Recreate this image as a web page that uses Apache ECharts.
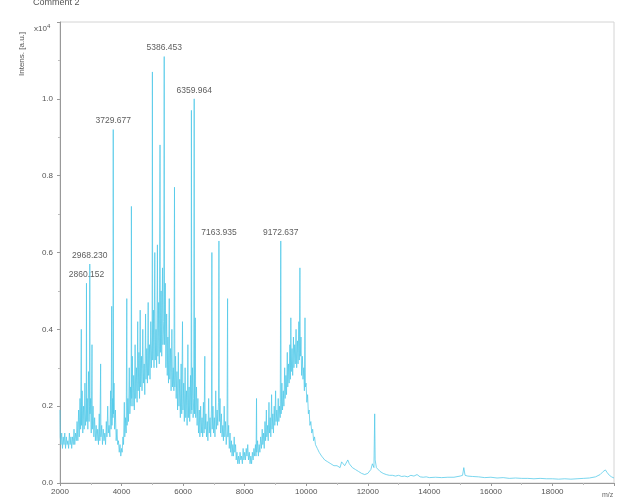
<!DOCTYPE html>
<html>
<head>
<meta charset="utf-8">
<script src="https://cdn.jsdelivr.net/npm/echarts@6/dist/echarts.min.js"></script>
<style>html,body{margin:0;padding:0;background:#fff;}#c{width:622px;height:502px;}</style>
</head>
<body>
<div id="c"></div>
<script>
// m/z tick labels
const xTicks = ['2000','4000','6000','8000','10000','12000','14000','16000','18000'];
const yTicks = ['0.0','0.2','0.4','0.6','0.8','1.0'];

// labelled peaks
const peakMz = [2860.152, 2968.230, 3729.677, 5386.453, 6359.964, 7163.935, 9172.637];
const peakInt = [0.52, 0.57, 0.92, 1.11, 1.00, 0.63, 0.63];
const peakText = ['2860.152', '2968.230', '3729.677', '5386.453', '6359.964', '7163.935', '9172.637'];

// spectrum, intensity x10^4 [a.u.]
const spectrumA = [
[2000,0.19],[2008,0.12],[2030,0.10],[2055,0.13],[2080,0.09],[2105,0.12],[2130,0.10],[2155,0.13],[2180,0.09],[2205,0.12],
[2230,0.10],[2255,0.11],[2280,0.09],[2305,0.13],[2330,0.10],[2355,0.12],[2380,0.09],[2405,0.12],[2430,0.10],[2455,0.14],
[2480,0.10],[2505,0.13],[2530,0.11],[2555,0.16],[2580,0.11],[2605,0.19],[2625,0.12],[2650,0.22],[2670,0.14],[2692,0.40],
[2700,0.15],[2720,0.24],[2740,0.13],[2765,0.20],[2785,0.14],[2810,0.26],[2830,0.15],[2852,0.19],[2860,0.52],[2868,0.16],
[2885,0.22],[2905,0.14],[2925,0.29],[2945,0.16],[2960,0.20],[2968,0.57],[2976,0.18],[2995,0.22],[3015,0.13],[3040,0.36],
[3050,0.14],[3075,0.20],[3100,0.12],[3125,0.17],[3150,0.11],[3175,0.15],[3200,0.11],[3225,0.14],[3250,0.10],[3275,0.18],
[3295,0.11],[3320,0.31],[3330,0.12],[3355,0.15],[3380,0.10],[3405,0.14],[3430,0.11],[3455,0.13],[3480,0.10],[3505,0.16],
[3525,0.12],[3550,0.20],[3570,0.13],[3595,0.15],[3620,0.12],[3645,0.24],[3660,0.14],[3680,0.46],[3690,0.15],[3710,0.22],
[3722,0.17],[3730,0.92],[3738,0.18],[3755,0.26],[3775,0.14],[3800,0.19],[3825,0.11],[3850,0.14],[3875,0.10],[3900,0.11],
[3925,0.08],[3950,0.10],[3975,0.07],[4000,0.09]
];
const spectrumB = [
[4020,0.08],[4045,0.12],[4065,0.10],[4090,0.21],[4105,0.12],[4130,0.17],[4150,0.13],[4170,0.48],[4180,0.15],[4205,0.22],
[4225,0.16],[4250,0.30],[4270,0.18],[4295,0.25],[4310,0.20],[4320,0.72],[4330,0.22],[4350,0.33],[4370,0.20],[4395,0.28],
[4415,0.19],[4440,0.36],[4460,0.22],[4485,0.30],[4505,0.21],[4525,0.42],[4540,0.24],[4565,0.34],[4585,0.22],[4605,0.45],
[4620,0.25],[4645,0.33],[4665,0.24],[4690,0.40],[4710,0.26],[4735,0.31],[4755,0.23],[4780,0.44],[4795,0.27],[4820,0.35],
[4840,0.26],[4865,0.47],[4880,0.28],[4905,0.36],[4925,0.27],[4950,0.42],[4970,0.30],[4992,0.38],[5002,1.07],[5012,0.32],
[5035,0.45],[5055,0.30],[5080,0.60],[5095,0.32],[5120,0.40],[5140,0.30],[5165,0.62],[5180,0.33],[5205,0.47],[5225,0.31],
[5250,0.88],[5262,0.34],[5285,0.50],[5305,0.33],[5330,0.56],[5345,0.36],[5370,0.42],[5386,1.11],[5398,0.36],[5420,0.52],
[5440,0.30],[5465,0.44],[5485,0.28],[5505,0.38],[5525,0.26],[5550,0.48],[5565,0.27],[5590,0.35],[5610,0.24],[5635,0.40],
[5655,0.25],[5680,0.30],[5700,0.24],[5720,0.77],[5732,0.25],[5755,0.33],[5775,0.22],[5800,0.29],[5820,0.19],[5845,0.34],
[5865,0.20],[5890,0.27],[5910,0.17],[5935,0.31],[5955,0.18],[5980,0.42],[5995,0.19],[6020,0.26],[6040,0.16],[6065,0.30],
[6085,0.17],[6110,0.24],[6130,0.15],[6155,0.36],[6170,0.17],[6195,0.25],[6215,0.16],[6240,0.28],[6258,0.18],[6270,0.97],
[6282,0.19],[6305,0.30],[6325,0.17],[6345,0.22],[6360,1.00],[6372,0.18],[6395,0.43],[6410,0.17],[6435,0.25],[6455,0.15],
[6480,0.22],[6500,0.13],[6525,0.19],[6545,0.12],[6570,0.20],[6590,0.13],[6615,0.17],[6635,0.12],[6660,0.21],[6680,0.13]
];
const spectrumC = [
[6705,0.33],[6715,0.14],[6740,0.18],[6760,0.12],[6785,0.16],[6805,0.11],[6830,0.22],[6850,0.13],[6875,0.17],[6895,0.12],
[6920,0.19],[6935,0.60],[6945,0.14],[6970,0.20],[6990,0.13],[7015,0.17],[7035,0.12],[7060,0.24],[7080,0.14],[7105,0.19],
[7125,0.15],[7150,0.21],[7164,0.63],[7176,0.16],[7200,0.22],[7220,0.13],[7245,0.18],[7265,0.12],[7290,0.15],[7310,0.11],
[7335,0.20],[7355,0.12],[7380,0.16],[7400,0.10],[7425,0.13],[7445,0.48],[7455,0.12],[7480,0.15],[7500,0.09],[7525,0.13],
[7545,0.08],[7570,0.11],[7590,0.07],[7615,0.10],[7635,0.07],[7660,0.12],[7680,0.08],[7705,0.10],[7725,0.06],[7750,0.08],
[7775,0.05],[7800,0.07],[7825,0.05],[7850,0.08],[7875,0.06],[7900,0.07],[7925,0.05],[7950,0.09],[7975,0.06],[8000,0.08],
[8025,0.06],[8050,0.09],[8075,0.07],[8100,0.10],[8125,0.06],[8150,0.08],[8175,0.05],[8200,0.07],[8225,0.05],[8250,0.08],
[8275,0.06],[8300,0.09],[8325,0.07],[8350,0.10],[8370,0.07],[8385,0.22],[8395,0.08],[8420,0.11],[8445,0.07],[8470,0.10],
[8495,0.08],[8520,0.12],[8545,0.09],[8570,0.14],[8590,0.10],[8615,0.13],[8635,0.09],[8660,0.16],[8680,0.11],[8705,0.19],
[8720,0.12],[8745,0.15],[8765,0.11],[8790,0.21],[8805,0.13],[8830,0.17],[8850,0.12],[8875,0.23],[8890,0.14],[8915,0.18],
[8935,0.13],[8960,0.20],[8980,0.15],[9005,0.24],[9020,0.16],[9045,0.19],[9065,0.15],[9090,0.22],[9110,0.16],[9135,0.20],
[9155,0.17],[9173,0.63],[9185,0.18],[9210,0.26],[9230,0.19],[9255,0.24],[9275,0.20],[9300,0.30],[9315,0.22],[9340,0.28],
[9360,0.23],[9385,0.34],[9400,0.25],[9425,0.31],[9445,0.26],[9470,0.36],[9485,0.27],[9500,0.43],[9515,0.29],[9540,0.35],
[9560,0.28],[9585,0.38],[9600,0.30],[9625,0.36],[9645,0.31],[9670,0.40],[9690,0.30],[9715,0.37],[9735,0.31],[9760,0.42],
[9775,0.32],[9795,0.56],[9808,0.33],[9830,0.38],[9850,0.28],[9875,0.33],[9895,0.27],[9920,0.30],[9940,0.24],[9960,0.43],
[9972,0.25],[9995,0.26],[10020,0.21],[10045,0.23],[10070,0.18],[10095,0.19],[10120,0.15],[10150,0.16],[10180,0.13],[10210,0.14],
[10240,0.11],[10270,0.12],[10300,0.10],[10330,0.10],[10360,0.09],[10390,0.09],[10420,0.08],[10450,0.08]
];
const spectrumD = [
[10500,0.07],[10550,0.07],[10600,0.06],[10650,0.065],[10700,0.055],[10750,0.06],[10800,0.05],[10850,0.05],[10900,0.045],[10950,0.04],
[11000,0.045],[11050,0.05],[11100,0.04],[11150,0.055],[11200,0.05],[11250,0.045],[11300,0.05],[11350,0.06],[11400,0.05],[11450,0.045],
[11500,0.04],[11550,0.035],[11600,0.035],[11650,0.03],[11700,0.03],[11750,0.028],[11800,0.025],[11850,0.025],[11900,0.022],[11950,0.022],
[12000,0.025],[12050,0.03],[12100,0.035],[12150,0.05],[12200,0.04],[12225,0.18],[12240,0.06],[12280,0.04],[12330,0.035],[12400,0.03],
[12500,0.025],[12600,0.022],[12700,0.02],[12800,0.02],[12900,0.018],[13000,0.02],[13100,0.017],[13200,0.018],[13300,0.016],[13400,0.02],
[13500,0.018],[13600,0.022],[13700,0.016],[13800,0.015],[13900,0.016],[14000,0.014],[14200,0.015],[14400,0.014],[14600,0.015],[14800,0.015],
[15000,0.018],[15080,0.02],[15120,0.04],[15160,0.02],[15250,0.018],[15400,0.017],[15600,0.016],[15800,0.014],[16000,0.015],[16200,0.013],
[16400,0.014],[16600,0.012],[16800,0.013],[17000,0.012],[17200,0.012],[17400,0.011],[17600,0.012],[17800,0.011],[18000,0.011],[18200,0.01],
[18400,0.011],[18600,0.01],[18800,0.011],[19000,0.012],[19200,0.013],[19400,0.016],[19550,0.022],[19650,0.03],[19720,0.034],[19780,0.027],
[19850,0.02],[19920,0.016],[20000,0.013]
];

const spectrum = spectrumA.concat(spectrumB, spectrumC, spectrumD);
const peaks = peakMz.map((m, i) => ({ value: [m, peakInt[i]], name: peakText[i] }));

const chart = echarts.init(document.getElementById('c'), null, { renderer: 'canvas' });
const txt = '#555';
const font = 'Liberation Sans';
chart.setOption({
  animation: false,
  backgroundColor: '#fff',
  grid: { left: 60, right: 8, top: 22, bottom: 19, show: true, borderColor: '#d4d4d4', borderWidth: 1 },
  xAxis: {
    type: 'value', min: 2000, max: 20000, interval: 2000,
    axisLine: { show: true, lineStyle: { color: '#999' } },
    axisTick: { show: true, length: 3, lineStyle: { color: '#999' } },
    minorTick: { show: true, splitNumber: 2, length: 2, lineStyle: { color: '#bbb' } },
    splitLine: { show: false },
    axisLabel: {
      color: txt, fontSize: 8, fontFamily: font, margin: 5, showMaxLabel: false,
      formatter: (v) => xTicks.indexOf(String(v)) >= 0 ? String(v) : ''
    }
  },
  yAxis: {
    type: 'value', min: 0, max: 1.2, interval: 0.2,
    axisLine: { show: true, lineStyle: { color: '#999' } },
    axisTick: { show: true, length: 3, lineStyle: { color: '#999' } },
    minorTick: { show: true, splitNumber: 2, length: 2, lineStyle: { color: '#bbb' } },
    splitLine: { show: false },
    axisLabel: {
      color: txt, fontSize: 8, fontFamily: font, margin: 7, showMaxLabel: false,
      formatter: (v) => { const s = v.toFixed(1); return yTicks.indexOf(s) >= 0 ? s : ''; }
    }
  },
  series: [
    {
      type: 'line', data: spectrum, showSymbol: false, symbol: 'none',
      lineStyle: { color: '#4fc8e8', width: 0.75 }, z: 2
    },
    {
      type: 'scatter', data: peaks, symbolSize: 0, z: 3,
      label: {
        show: true, position: 'top', distance: 4,
        formatter: (p) => p.name, color: '#333', fontSize: 8.5, fontFamily: font
      }
    }
  ],
  graphic: [
    { type: 'text', left: 33, top: -2, style: { text: 'Comment 2', fill: '#555', font: '9px Liberation Sans' } },
    { type: 'text', x: 18, y: 76, rotation: Math.PI / 2, style: { text: 'Intens. [a.u.]', fill: '#555', font: '8px Liberation Sans' } },
    { type: 'text', left: 34, top: 23, style: {
        text: '{a|x10}{b|4}', rich: { a: { fontSize: 8, fill: '#555', fontFamily: font }, b: { fontSize: 6, fill: '#555', fontFamily: font, verticalAlign: 'top', padding: [0,0,5,0] } } } },
    { type: 'text', left: 602, top: 492, style: { text: 'm/z', fill: '#666', font: '7px Liberation Sans' } }
  ]
});
</script>
</body>
</html>
